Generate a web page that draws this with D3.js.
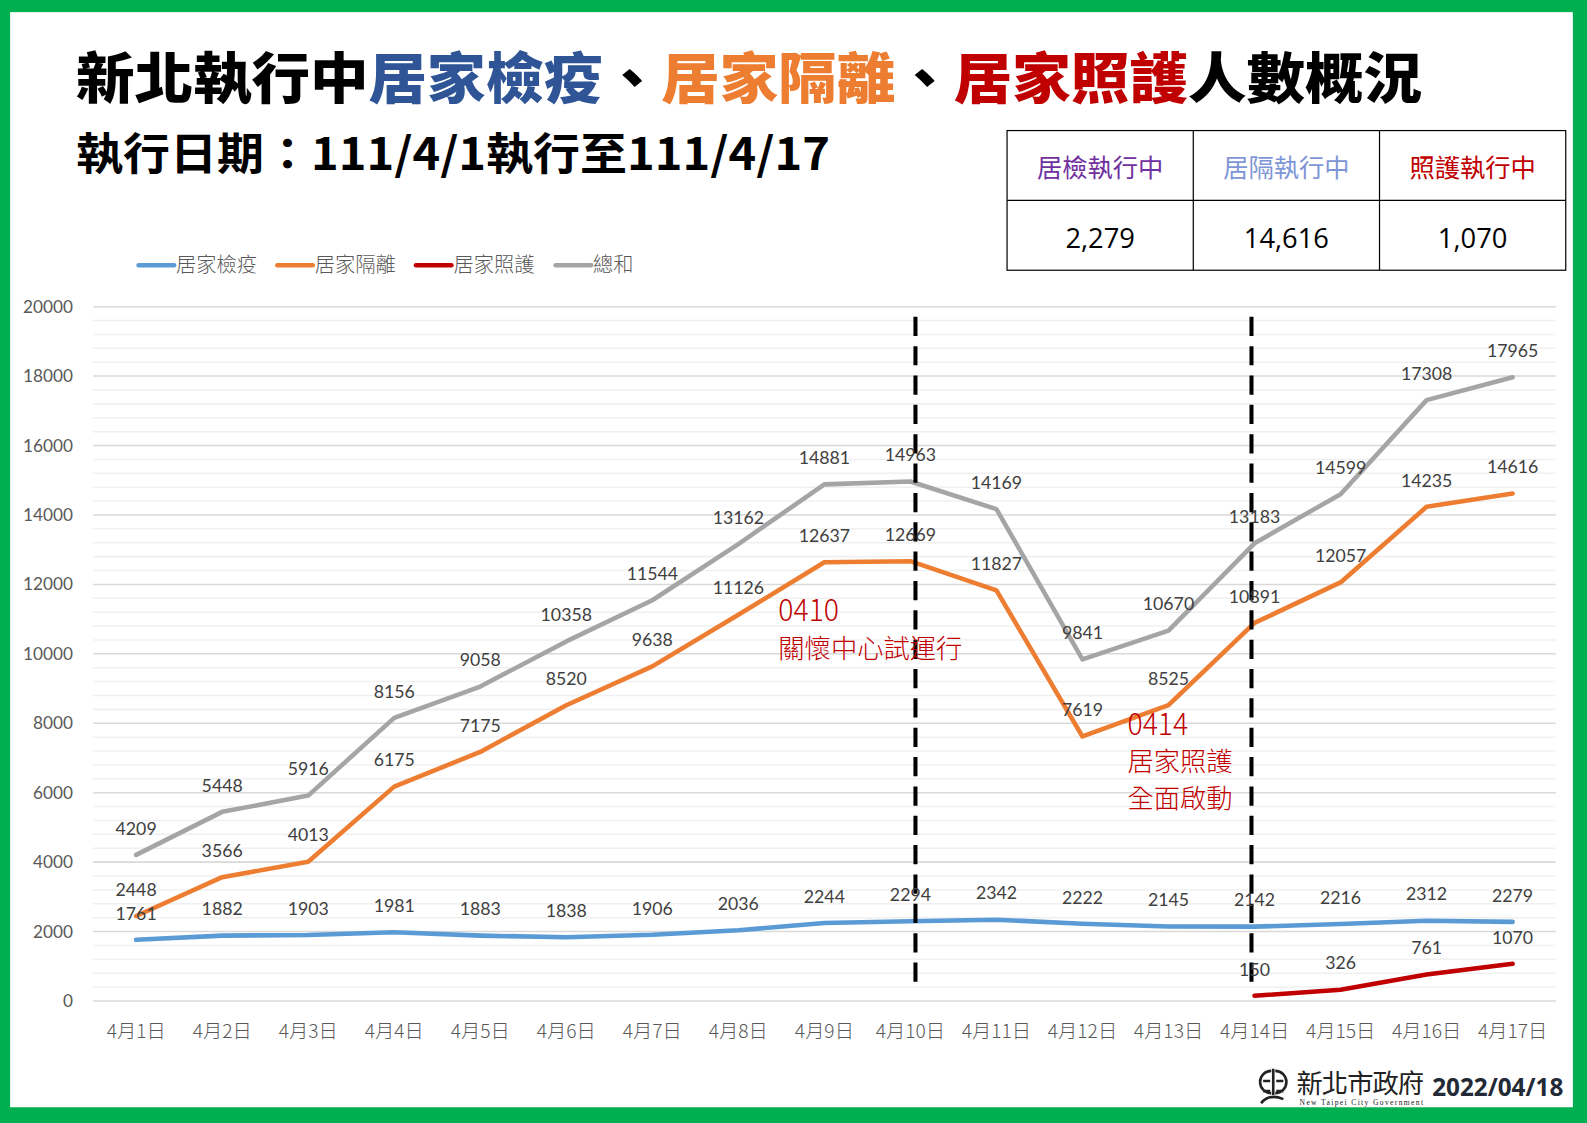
<!DOCTYPE html>
<html>
<head>
<meta charset="utf-8">
<script src="https://cdn.jsdelivr.net/npm/d3@7"></script>
<style>
  html, body { margin: 0; padding: 0; background: #fff; }
  svg { display: block; }
</style>
</head>
<body>
<div id="chart"></div>
<script>
// data
var days = ['4月1日','4月2日','4月3日','4月4日','4月5日','4月6日','4月7日','4月8日','4月9日',
            '4月10日','4月11日','4月12日','4月13日','4月14日','4月15日','4月16日','4月17日']
var quarantine = [1761,1882,1903,1981,1883,1838,1906,2036,2244,2294,2342,2222,2145,2142,2216,2312,2279]
var isolation = [2448,3566,4013,6175,7175,8520,9638,11126,12637,12669,11827,7619,8525,10891,12057,14235,14616]
var homecare = [null,null,null,null,null,null,null,null,null,null,null,null,null,150,326,761,1070]
var total = [4209,5448,5916,8156,9058,10358,11544,13162,14881,14963,14169,9841,10670,13183,14599,17308,17965]
var seriesNames = ['居家檢疫','居家隔離','居家照護','總和']
var yTicks = [0,2000,4000,6000,8000,10000,12000,14000,16000,18000,20000]
var tableHeads = ['居檢執行中','居隔執行中','照護執行中']
var tableValues = [2279,14616,1070]
var markerDays = ['4月10日','4月14日']

// layout is worked in a 1568-wide space, scaled up to the window by the viewBox
var W = 1568
  , H = 1123 * 1568 / 1587
  , cjk = "'Noto Sans CJK TC', 'Noto Sans CJK SC', sans-serif"
  , num = "Lato, 'Noto Sans CJK TC', sans-serif"
  , colors = ['#5B9BD5', '#ED7D31', '#C00000', '#A5A5A5']
  , svg = d3.select('#chart').append('svg')
      .attr('width', 1587).attr('height', 1123)
      .attr('viewBox', [0, 0, W, H].join(' '))

// green frame
svg.append('rect').attr('width', W).attr('height', H).attr('fill', '#00B050')
svg.append('rect').attr('x', 10).attr('y', 12).attr('width', 1544).attr('height', 1082).attr('fill', '#fff')

// title
var title = svg.append('text')
  .attr('x', 75).attr('y', 97)
  .attr('font-family', cjk).attr('font-weight', 900).attr('font-size', 54)
  .attr('textLength', 1330).attr('lengthAdjust', 'spacingAndGlyphs')
;[['新北執行中', '#000'], ['居家檢疫', '#2F5597'], ['、', '#000'], ['居家隔離', '#ED7D31'],
  ['、', '#000'], ['居家照護', '#C00000'], ['人數概況', '#000']].forEach(function(p){
  title.append('tspan').attr('fill', p[1]).text(p[0])
})

svg.append('text')
  .attr('x', 75).attr('y', 168)
  .attr('font-family', cjk).attr('font-weight', 700).attr('font-size', 44)
  .attr('textLength', 745).attr('lengthAdjust', 'spacingAndGlyphs')
  .text('執行日期：111/4/1執行至111/4/17')

// summary table
var tx = 995, ty = 129, cw = 184, rh = 69
  , headColors = ['#7030A0', '#7F96D6', '#C00000']
  , tbl = svg.append('g')

tbl.append('rect').attr('x', tx).attr('y', ty).attr('width', cw * 3).attr('height', rh * 2)
  .attr('fill', 'none').attr('stroke', '#000').attr('stroke-width', 1.2)
tbl.append('line').attr('x1', tx).attr('x2', tx + cw * 3).attr('y1', ty + rh).attr('y2', ty + rh)
  .attr('stroke', '#000').attr('stroke-width', 1.2)
;[1, 2].forEach(function(i){
  tbl.append('line').attr('x1', tx + cw * i).attr('x2', tx + cw * i).attr('y1', ty).attr('y2', ty + rh * 2)
    .attr('stroke', '#000').attr('stroke-width', 1.2)
})
tableHeads.forEach(function(t, i){
  tbl.append('text').attr('x', tx + cw * i + cw / 2).attr('y', ty + 46)
    .attr('text-anchor', 'middle').attr('font-family', cjk).attr('font-size', 25)
    .attr('fill', headColors[i]).text(t)
  tbl.append('text').attr('x', tx + cw * i + cw / 2).attr('y', ty + rh + 47)
    .attr('text-anchor', 'middle').attr('font-family', "'Open Sans', sans-serif").attr('font-size', 27)
    .attr('fill', '#000').text(d3.format(',')(tableValues[i]))
})

// chart area
var pl = 92, pr = 1537, pt = 303, pb = 989
  , x = d3.scaleBand().domain(days).range([pl, pr])
  , y = d3.scaleLinear().domain([0, 20000]).range([pb, pt])
  , cx = function(d){ return x(d) + x.bandwidth() / 2 }

// minor + major gridlines
svg.append('g').selectAll('line').data(d3.range(0, 20001, 400))
  .enter().append('line')
    .attr('x1', pl).attr('x2', pr)
    .attr('y1', function(d){ return y(d) }).attr('y2', function(d){ return y(d) })
    .attr('stroke', function(d){ return d % 2000 === 0 ? '#D9D9D9' : '#F0F0F0' })
    .attr('stroke-width', 1.5)

var yAxis = svg.append('g')
  .attr('transform', 'translate(' + (pl - 17) + ',0)')
  .call(d3.axisLeft(y).tickValues(yTicks).tickSize(0).tickFormat(d3.format('d')))
yAxis.select('.domain').remove()
yAxis.selectAll('text').attr('font-family', num).attr('font-size', 17).attr('fill', '#595959')

var xAxis = svg.append('g')
  .attr('transform', 'translate(0,' + (pb + 20) + ')')
  .call(d3.axisBottom(x).tickSize(0))
xAxis.select('.domain').remove()
xAxis.selectAll('text').attr('font-family', cjk).attr('font-weight', 300)
  .attr('font-size', 19).attr('fill', '#595959')

// series lines
var allSeries = [quarantine, isolation, homecare, total]
  , line = d3.line()
      .defined(function(d){ return d.v != null })
      .x(function(d){ return cx(d.day) })
      .y(function(d){ return y(d.v) })

var drawOrder = [3, 1, 0, 2]
drawOrder.forEach(function(si){
  var pts = allSeries[si].map(function(v, i){ return {day: days[i], v: v} })
  svg.append('path').datum(pts)
    .attr('d', line)
    .attr('fill', 'none').attr('stroke', colors[si]).attr('stroke-width', 4.5)
    .attr('stroke-linejoin', 'round').attr('stroke-linecap', 'round')
})

// dashed markers (drawn by hand in the original, a little off the points)
var markerShift = [5, -3]
markerDays.forEach(function(d, i){
  svg.append('line')
    .attr('x1', cx(d) + markerShift[i]).attr('x2', cx(d) + markerShift[i]).attr('y1', 313).attr('y2', 976)
    .attr('stroke', '#000').attr('stroke-width', 4).attr('stroke-dasharray', '19,10')
})

// data labels
allSeries.forEach(function(s, si){
  svg.append('g').selectAll('text').data(s.map(function(v, i){ return {day: days[i], v: v} })
      .filter(function(d){ return d.v != null }))
    .enter().append('text')
      .attr('x', function(d){ return cx(d.day) })
      .attr('y', function(d){ return y(d.v) - 20 })
      .attr('text-anchor', 'middle')
      .attr('font-family', num).attr('font-size', 17.5).attr('fill', '#404040')
      .text(function(d){ return d.v })
})

// annotations
function note(lines, xx, yy){
  lines.forEach(function(t, i){
    var el = svg.append('text').attr('x', xx).attr('y', yy + i * 36)
      .attr('font-family', cjk).attr('font-weight', 300)
      .attr('font-size', i === 0 ? 30 : 26).attr('fill', '#C00000').text(t)
    if(i === 0) el.attr('textLength', 60).attr('lengthAdjust', 'spacingAndGlyphs')
  })
}
note(['0410', '關懷中心試運行'], 769, 614)
note(['0414', '居家照護', '全面啟動'], 1114, 726)

// legend
var lg = svg.append('g').attr('transform', 'translate(137,262)')
  , lx = [0, 137, 274, 412]
seriesNames.forEach(function(n, i){
  lg.append('line').attr('x1', lx[i]).attr('x2', lx[i] + 35).attr('y1', 0).attr('y2', 0)
    .attr('stroke', colors[i]).attr('stroke-width', 4.5).attr('stroke-linecap', 'round')
  lg.append('text').attr('x', lx[i] + 37).attr('y', 7)
    .attr('font-family', cjk).attr('font-weight', 300).attr('font-size', 20)
    .attr('fill', '#595959').text(n)
})

// footer: logo + date
var logo = svg.append('g').attr('transform', 'translate(1258,1074)')
logo.append('path').attr('d', 'M-2,-16 A11,11 0 0,0 -2,6 M2,-16 A11,11 0 0,1 2,6 M0,-18 L0,8 M-10,-6 L-3,-6 M3,-6 L10,-6 M-10,4 L-3,4 M3,4 L10,4 M-12,16 Q-4,6 10,12')
  .attr('fill', 'none').attr('stroke', '#222').attr('stroke-width', 2.6)
svg.append('text').attr('x', 1281).attr('y', 1080)
  .attr('font-family', cjk).attr('font-weight', 400).attr('font-size', 26)
  .attr('fill', '#222').attr('textLength', 126).text('新北市政府')
svg.append('text').attr('x', 1284).attr('y', 1092)
  .attr('font-family', "'Liberation Serif', serif").attr('font-size', 7.5)
  .attr('fill', '#222').attr('textLength', 122).text('New Taipei City Government')
svg.append('text').attr('x', 1415).attr('y', 1083)
  .attr('font-family', "'Open Sans', sans-serif").attr('font-weight', 700).attr('font-size', 24)
  .attr('fill', '#222A35').text('2022/04/18')
</script>
</body>
</html>
